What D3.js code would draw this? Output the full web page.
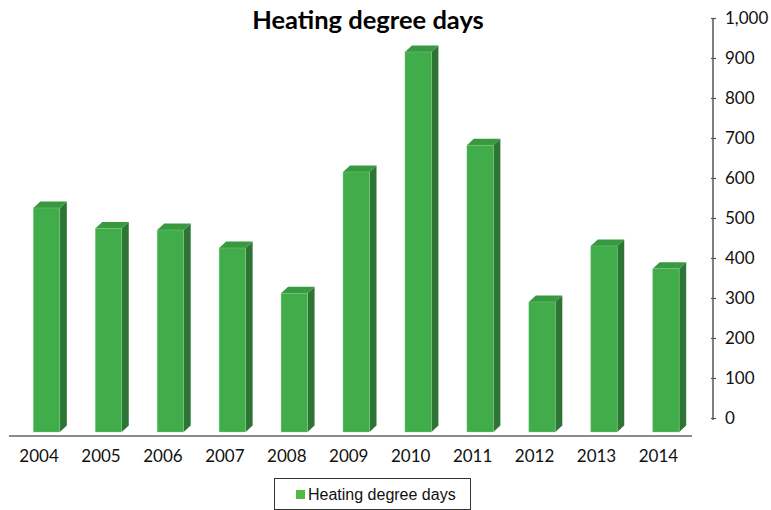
<!DOCTYPE html>
<html>
<head>
<meta charset="utf-8">
<script src="https://cdn.jsdelivr.net/npm/d3@7"></script>
<style>
html,body{margin:0;padding:0;background:#fff;}
svg{display:block;}
</style>
</head>
<body>
<svg id="chart" width="771" height="510"></svg>
<script>
const years = ["2004","2005","2006","2007","2008","2009","2010","2011","2012","2013","2014"];
const heatingDegreeDays = [560, 509, 505, 460, 347, 650, 950, 717, 325, 465, 408];
const yTicks = [0,100,200,300,400,500,600,700,800,900,1000];
const seriesName = "Heating degree days";
const titleText = "Heating degree days";

const svg = d3.select("#chart");

const yAxisScale = d3.scaleLinear().domain([0,1000]).range([418,18]);
const yFront = d3.scaleLinear().domain([0,1000]).range([432,32]);
const x = d3.scaleBand().domain(years).range([15.6, 696.9]).paddingInner(0.572).paddingOuter(0.286);

const dx = 7, dy = 6.5;
const base = yFront(0);

// floor front edge
svg.append("line").attr("x1",9).attr("x2",692).attr("y1",436).attr("y2",436)
  .attr("stroke","#8a8a8a").attr("stroke-width",2);

// bars
const bars = svg.append("g");
years.forEach((yr,i)=>{
  const v = heatingDegreeDays[i];
  const xl = x(yr), xr = x(yr)+x.bandwidth();
  const yt = yFront(v);
  const g = bars.append("g");
  g.append("path")
    .attr("d", `M${xr},${yt} L${xr+dx},${yt-dy} L${xr+dx},${base-dy} L${xr},${base} Z`)
    .attr("fill","#2e7535");
  g.append("path")
    .attr("d", `M${xl},${yt} L${xl+dx},${yt-dy} L${xr+dx},${yt-dy} L${xr},${yt} Z`)
    .attr("fill","#379a40");
  g.append("rect").attr("x",xl).attr("y",yt).attr("width",xr-xl).attr("height",base-yt)
    .attr("fill","#41ad4a").attr("stroke","#8fd694").attr("stroke-width",0.6).attr("stroke-opacity",0.6);
});

// category labels
svg.append("g").selectAll("text").data(years).join("text")
  .attr("x", d => x(d) + x.bandwidth()/2 - 7.5)
  .attr("y", 462)
  .attr("text-anchor","middle")
  .attr("font-family","Lato, 'Open Sans', sans-serif")
  .attr("font-size",17)
  .attr("fill","#111")
  .text(d=>d);

// right value axis
const axis = d3.axisRight(yAxisScale).tickValues(yTicks).tickSize(0).tickPadding(12)
  .tickFormat(d3.format(","));
const ag = svg.append("g").attr("transform","translate(713,0)").call(axis);
ag.select(".domain").remove();
ag.append("line").attr("x1",0).attr("x2",0).attr("y1",18).attr("y2",420)
  .attr("stroke","#555").attr("stroke-width",1.5);
ag.selectAll(".tick").append("line").attr("x1",-2).attr("x2",3).attr("y1",0).attr("y2",0)
  .attr("stroke","#555").attr("stroke-width",1.2);
ag.selectAll(".tick text")
  .attr("font-family","Lato, 'Open Sans', sans-serif")
  .attr("font-size",17).attr("fill","#111");

// title
svg.append("text").attr("x",368).attr("y",29).attr("text-anchor","middle")
  .attr("font-family","Lato, 'Open Sans', sans-serif").attr("font-weight","bold")
  .attr("font-size",25.5).attr("fill","#000").text(titleText);

// legend
const lg = svg.append("g");
lg.append("rect").attr("x",274.5).attr("y",478.5).attr("width",196).attr("height",31)
  .attr("fill","#fff").attr("stroke","#333").attr("stroke-width",1);
lg.append("rect").attr("x",296).attr("y",490).attr("width",9).attr("height",9).attr("fill","#52b848");
lg.append("text").attr("x",308).attr("y",499.5)
  .attr("font-family","'Liberation Sans', Arial, sans-serif").attr("font-size",16)
  .attr("fill","#111").text(seriesName);
</script>
</body>
</html>
